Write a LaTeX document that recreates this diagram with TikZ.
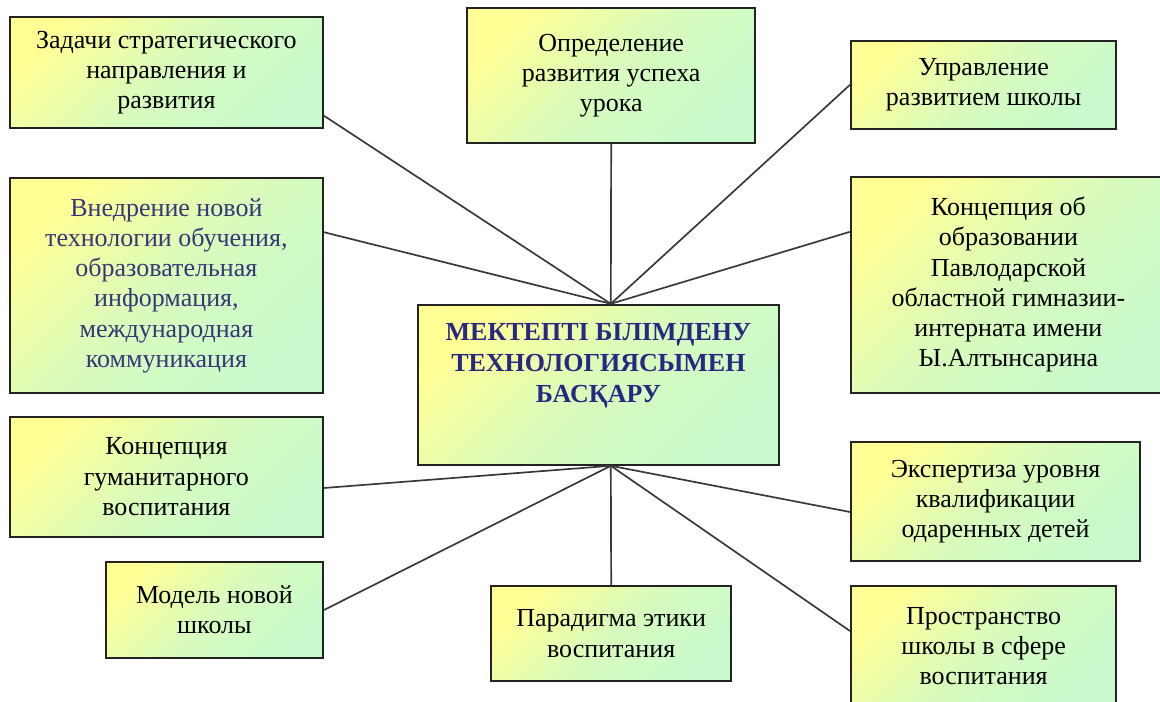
\documentclass[tikz,border=0pt]{standalone}
\usepackage{fontspec}
\setmainfont{Liberation Serif}
\usepackage{xcolor}
\definecolor{boxyel}{RGB}{255,255,150}
\definecolor{boxgrn}{RGB}{200,250,205}
\definecolor{boxline}{RGB}{35,35,35}
\definecolor{titleblue}{RGB}{40,40,130}
\definecolor{textblue}{RGB}{55,55,120}
\usepackage{tikz}
\usetikzlibrary{positioning,calc}
\tikzset{
  box/.style={draw=boxline,line width=1.4pt,top color=boxyel,bottom color=boxgrn,%
    middle color=boxgrn!70!boxyel,shading angle=45,%
    font=\fontsize{18.5}{21.5}\selectfont,inner sep=4pt,align=center},
  hub/.style={box,font=\fontsize{18.5}{22}\selectfont\bfseries,text=titleblue},
  link/.style={draw=boxline!90,line width=1.2pt},
}

\begin{document}
\begin{tikzpicture}
\useasboundingbox (0,0) rectangle (29,17.55);
% centre
\node[hub,minimum width=9.03cm,minimum height=4cm] (c) at (14.96,7.93)
  {МЕКТЕПТІ БІЛІМДЕНУ\\ТЕХНОЛОГИЯСЫМЕН\\БАСҚАРУ\\[0.3cm]};
% top row
\node[box,minimum width=7.83cm,minimum height=2.78cm] (zad) at (4.16,15.74)
  {Задачи стратегического\\направления и\\развития};
\node[box,minimum width=7.2cm,minimum height=3.38cm] (opr) at (15.28,15.66)
  {Определение\\развития успеха\\урока};
\node[box,minimum width=6.63cm,minimum height=2.2cm] (upr) at (24.59,15.43)
  {Управление\\развитием школы};
% middle row
\node[box,text=textblue,minimum width=7.83cm,minimum height=5.38cm] (vned) at (4.16,10.41)
  {Внедрение новой\\технологии обучения,\\образовательная\\информация,\\международная\\коммуникация};
\node[box,minimum width=7.88cm,minimum height=5.4cm] (konc) at (25.21,10.43)
  {Концепция об\\образовании\\Павлодарской\\областной гимназии-\\интерната имени\\Ы.Алтынсарина};
% bottom rows
\node[box,minimum width=7.83cm,minimum height=3cm] (gum) at (4.16,5.63)
  {Концепция\\гуманитарного\\воспитания};
\node[box,minimum width=7.23cm,minimum height=2.98cm] (eksp) at (24.89,5.01)
  {Экспертиза уровня\\квалификации\\одаренных детей};
\node[box,minimum width=5.43cm,minimum height=2.4cm] (model) at (5.36,2.3)
  {Модель новой\\школы};
\node[box,minimum width=6cm,minimum height=2.38cm] (parad) at (15.28,1.71)
  {Парадигма этики\\воспитания};
\node[box,minimum width=6.63cm,minimum height=3cm] (prost) at (24.59,1.4)
  {Пространство\\школы в сфере\\воспитания};
% spokes
\coordinate (up) at ([xshift=0.31cm]c.north);
\coordinate (dn) at ([xshift=0.31cm]c.south);
\draw[link] (up) -- ([yshift=0.33cm]zad.south east);
\draw[link] (up) -- (opr.south);
\draw[link] (up) -- (upr.west);
\draw[link] (up) -- ([yshift=-1.38cm]vned.north east);
\draw[link] (up) -- ([yshift=-1.4cm]konc.north west);
\draw[link] (dn) -- ([yshift=-0.28cm]gum.east);
\draw[link] (dn) -- (model.east);
\draw[link] (dn) -- (parad.north);
\draw[link] (dn) -- ([yshift=-0.26cm]eksp.west);
\draw[link] (dn) -- ([yshift=-1.15cm]prost.north west);
\end{tikzpicture}
\end{document}
